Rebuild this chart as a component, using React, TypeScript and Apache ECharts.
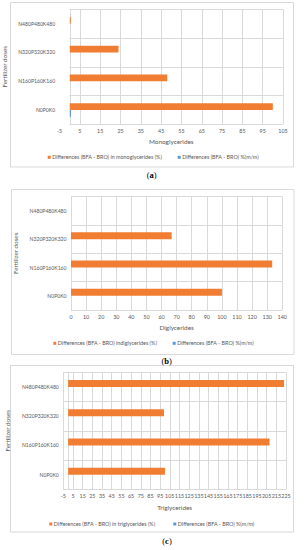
import { useEffect, useRef } from 'react';
import * as echarts from 'echarts';

// ---------- data ----------
const categories = ['N0P0K0', 'N160P160K160', 'N320P320K320', 'N480P480K480'];

const monoPct = [100, 48, 24, 0.5];
const monoMM = [0.6, 0, 0, 0];
const diPct = [100, 133.3, 66.7, 0];
const diMM = [0, 0, 0, 0];
const triPct = [100, 208, 99, 223];
const triMM = [0, 0, 0, 0];

const monoTickLabels = [-5, 5, 15, 25, 35, 45, 55, 65, 75, 85, 95, 105];
const monoGridValues = [5, 15, 25, 35, 45, 55, 65, 75, 85, 95, 105];
const diTickLabels = [0, 10, 20, 30, 40, 50, 60, 70, 80, 90, 100, 110, 120, 130, 140];
const triTickLabels = [-5, 5, 15, 25, 35, 45, 55, 65, 75, 85, 95, 105, 115, 125, 135, 145, 155, 165, 175, 185, 195, 205, 215, 225];

const pctNames = [
  'Differences (BFA - BRO) in monoglycerides (%)',
  'Differences (BFA - BRO) indiglycerides (%)',
  'Differences (BFA - BRO) in triglycerides (%)',
];
const mmName = 'Differences (BFA - BRO) %(m/m)';
const xNames = ['Monoglycerides', 'Diglycerides', 'Triglycerides'];
const yName = 'Fertilizer doses';
const panelLetters = ['a', 'b', 'c'];

// ---------- styles / layout ----------
const ORANGE = '#F07D32';
const BLUE = '#5B9BD5';
const GRID = '#D9D9D9';
const TXT = '#595959';
const FONT = 'Lato, "Open Sans", sans-serif';

const panels = [
  {
    grid: { left: 59.6, top: 9.3, width: 223.4, height: 115 },
    min: -5, max: 105,
    labels: monoTickLabels, lines: monoGridValues,
    pct: monoPct, mm: monoMM, barWidth: 6.7,
    nameGapY: 43.5, nameGapX: 14,
    legendY: 158.3, legendO: 47.7, legendB: 177.7,
    border: [10.5, 2.5, 283, 164.5],
    tag: [151.7, 174.5],
  },
  {
    grid: { left: 71, top: 196.7, width: 211.3, height: 113.3 },
    min: 0, max: 140,
    labels: diTickLabels, lines: diTickLabels,
    pct: diPct, mm: diMM, barWidth: 7,
    nameGapY: 44.5, nameGapX: 14,
    legendY: 344.3, legendO: 53.3, legendB: 172.7,
    border: [11.5, 189.5, 282.5, 165],
    tag: [166.7, 361],
  },
  {
    grid: { left: 63.3, top: 372.3, width: 222.7, height: 117 },
    min: -5, max: 225,
    labels: triTickLabels, lines: triTickLabels,
    pct: triPct, mm: triMM, barWidth: 7,
    nameGapY: 44.5, nameGapX: 15,
    legendY: 525, legendO: 49.3, legendB: 173.3,
    border: [10.5, 365.5, 283, 166.5],
    tag: [167, 541],
  },
];

export default function App() {
  const ref = useRef<HTMLDivElement>(null);

  useEffect(() => {
    if (!ref.current) return;
    const chart = echarts.init(ref.current, undefined, { renderer: 'svg' });

    const grids: any[] = [];
    const xAxes: any[] = [];
    const yAxes: any[] = [];
    const series: any[] = [];
    const legends: any[] = [];
    const graphics: any[] = [];

    panels.forEach((p, i) => {
      grids.push({ ...p.grid, containLabel: false, outerBoundsMode: 'none' });
      xAxes.push({
        gridIndex: i,
        type: 'value',
        min: p.min,
        max: p.max,
        axisLine: { show: false },
        axisTick: { show: false, customValues: p.lines },
        axisLabel: {
          customValues: p.labels,
          color: TXT,
          fontSize: 5.4,
          fontFamily: FONT,
          margin: 4.5,
        },
        splitLine: { show: true, lineStyle: { color: GRID, width: 1 } },
        name: xNames[i],
        nameLocation: 'middle',
        nameGap: p.nameGapX,
        nameTextStyle: { color: TXT, fontSize: 6.4, fontFamily: FONT },
      });
      yAxes.push({
        gridIndex: i,
        type: 'category',
        data: categories,
        axisLine: { show: true, onZero: true, lineStyle: { color: GRID, width: 1 } },
        axisTick: { show: false },
        axisLabel: { color: TXT, fontSize: 5.1, fontFamily: FONT, margin: 4.5 },
        splitLine: { show: i !== 0, lineStyle: { color: GRID, width: 1 } },
        name: yName,
        nameLocation: 'middle',
        nameGap: p.nameGapY,
        nameTextStyle: { color: TXT, fontSize: 6.3, fontFamily: FONT },
      });
      series.push({
        type: 'bar',
        name: pctNames[i],
        xAxisIndex: i,
        yAxisIndex: i,
        data: p.pct,
        barWidth: p.barWidth,
        barGap: '0%',
        itemStyle: { color: ORANGE },
      });
      series.push({
        type: 'bar',
        name: mmName,
        xAxisIndex: i,
        yAxisIndex: i,
        data: p.mm,
        barWidth: p.barWidth,
        barGap: '0%',
        itemStyle: { color: BLUE },
      });
      const legendBase = {
        orient: 'horizontal',
        padding: 0,
        itemWidth: 3,
        itemHeight: 3,
        icon: 'rect',
        selectedMode: false,
        textStyle: { color: TXT, fontSize: 5.4, fontFamily: FONT, padding: [0, 0, 0, -3.5] },
      };
      legends.push({ ...legendBase, data: [pctNames[i]], left: p.legendO, top: p.legendY - 3.5 });
      legends.push({ ...legendBase, data: [mmName], left: p.legendB, top: p.legendY - 3.5 });

      graphics.push({
        type: 'rect',
        silent: true,
        z: -10,
        shape: { x: p.border[0], y: p.border[1], width: p.border[2], height: p.border[3] },
        style: { fill: 'none', stroke: GRID, lineWidth: 1 },
      });
      graphics.push({
        type: 'text',
        silent: true,
        x: p.tag[0],
        y: p.tag[1],
        style: {
          text: '{n|(}{b|' + panelLetters[i] + '}{n|)}',
          align: 'center',
          verticalAlign: 'middle',
          rich: {
            n: { fontFamily: '"Liberation Serif", serif', fontSize: 8.5, fill: '#000' },
            b: { fontFamily: '"Liberation Serif", serif', fontSize: 8.5, fontWeight: 'bold', fill: '#000' },
          },
        },
      });
    });

    // overlay grid for panel (a): horizontal category lines start at the zero line
    grids.push({ left: 69.5, top: 9.3, width: 213.5, height: 115, containLabel: false, outerBoundsMode: 'none' });
    xAxes.push({ gridIndex: 3, type: 'value', min: 0, max: 105, show: false });
    yAxes.push({
      gridIndex: 3,
      type: 'category',
      data: categories,
      axisLine: { show: false },
      axisTick: { show: false },
      axisLabel: { show: false },
      splitLine: { show: true, lineStyle: { color: GRID, width: 1 } },
    });

    chart.setOption({
      animation: false,
      backgroundColor: '#ffffff',
      grid: grids,
      xAxis: xAxes,
      yAxis: yAxes,
      series,
      legend: legends,
      graphic: graphics,
    });

    return () => chart.dispose();
  }, []);

  return (
    <div
      ref={ref}
      style={{ position: 'absolute', left: 0, top: 0, width: 307, height: 550, background: '#fff' }}
    />
  );
}
